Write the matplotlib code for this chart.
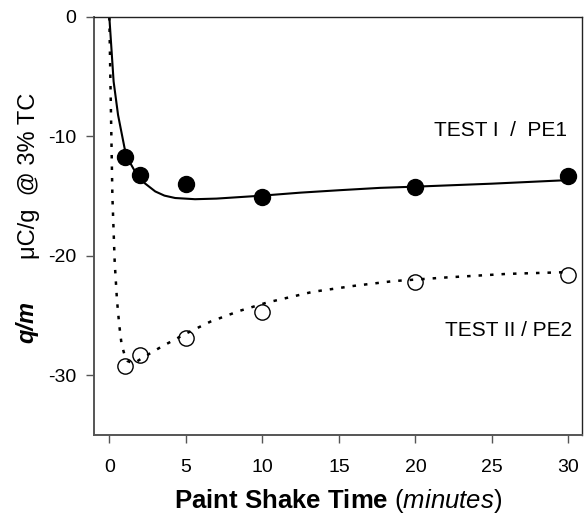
import matplotlib
matplotlib.use("Agg")
import matplotlib.pyplot as plt

plt.rcParams['font.family'] = ['Liberation Sans', 'DejaVu Sans']
plt.rcParams['axes.unicode_minus'] = False
plt.rcParams['mathtext.fontset'] = 'custom'
plt.rcParams['mathtext.rm'] = 'Liberation Sans'
plt.rcParams['mathtext.it'] = 'Liberation Sans:italic'
plt.rcParams['mathtext.bf'] = 'Liberation Sans:bold'

# measured points
time_pts = [1, 2, 5, 10, 20, 30]
test1_qm = [-11.7, -13.2, -14.0, -15.1, -14.2, -13.3]
test2_qm = [-29.2, -28.3, -26.9, -24.7, -22.2, -21.6]

# fitted curves
fit1_x = [0.0, 0.28, 0.57, 1.0, 1.4, 1.8, 2.3, 3.0, 3.6, 4.3, 5.6, 7.0, 10.0, 12.5, 15.0, 17.7, 20.0, 25.0, 30.0]
fit1_y = [0.0, -5.4, -8.2, -11.0, -12.3, -13.2, -13.9, -14.6, -14.95, -15.15, -15.25, -15.2, -14.95, -14.7, -14.5, -14.3, -14.2, -13.95, -13.65]
fit2_x = [0.0, 0.1, 0.2, 0.35, 0.5, 0.65, 0.8, 1.0, 1.2, 1.6, 2.2, 3.4, 5.0, 6.6, 8.5, 10.3, 13.3, 16.0, 18.6, 22.0, 26.0, 30.0]
fit2_y = [0.0, -7.5, -15.0, -20.5, -23.7, -25.8, -27.4, -28.3, -28.8, -29.0, -28.5, -27.6, -26.5, -25.5, -24.6, -23.9, -23.0, -22.5, -22.1, -21.8, -21.5, -21.35]

xticks = [0, 5, 10, 15, 20, 25, 30]
yticks = [0, -10, -20, -30]

fig = plt.figure(figsize=(5.84, 5.15), dpi=100)
ax = fig.add_axes([0.161, 0.155, 0.836, 0.812])

ax.plot(fit1_x, fit1_y, color='black', lw=1.5, zorder=2)
ax.plot(fit2_x, fit2_y, color='black', lw=1.8, linestyle=(0, (1.4, 3.2)), zorder=2)
ax.plot(time_pts, test1_qm, 'o', color='black', ms=11.5, zorder=3, clip_on=False)
ax.plot(time_pts, test2_qm, 'o', mfc='none', mec='black', mew=1.0, ms=11, zorder=3, clip_on=False)

ax.set_xlim(-1, 30.9)
ax.set_ylim(-35, 0)
ax.set_xticks(xticks)
ax.set_yticks(yticks)
ax.tick_params(axis='both', direction='out', length=6, width=1, color='#555555', labelsize=14)
ax.tick_params(axis='y', pad=7)
ax.tick_params(axis='x', pad=11)

for s in ['left', 'bottom']:
    ax.spines[s].set_color('#555555')
    ax.spines[s].set_linewidth(1.4)
for s in ['top', 'right']:
    ax.spines[s].set_color('#222222')
    ax.spines[s].set_linewidth(1.0)

ax.text(29.93, -9.5, 'TEST I  /  PE1', ha='right', va='center', fontsize=15)
ax.text(30.26, -26.2, 'TEST II / PE2', ha='right', va='center', fontsize=15)

ax.set_xlabel('$\\bf{Paint\\ Shake\\ Time}$ ($\\it{minutes}$)', fontsize=18.5, labelpad=8)

fig.text(0.049, 0.659, '\u03bcC/g  @ 3% TC', rotation=90, ha='center', va='center', fontsize=17)
fig.text(0.046, 0.374, 'q/m', rotation=90, ha='center', va='center', fontsize=17, fontweight='bold', fontstyle='italic')

fig.savefig('out.png', dpi=100)
